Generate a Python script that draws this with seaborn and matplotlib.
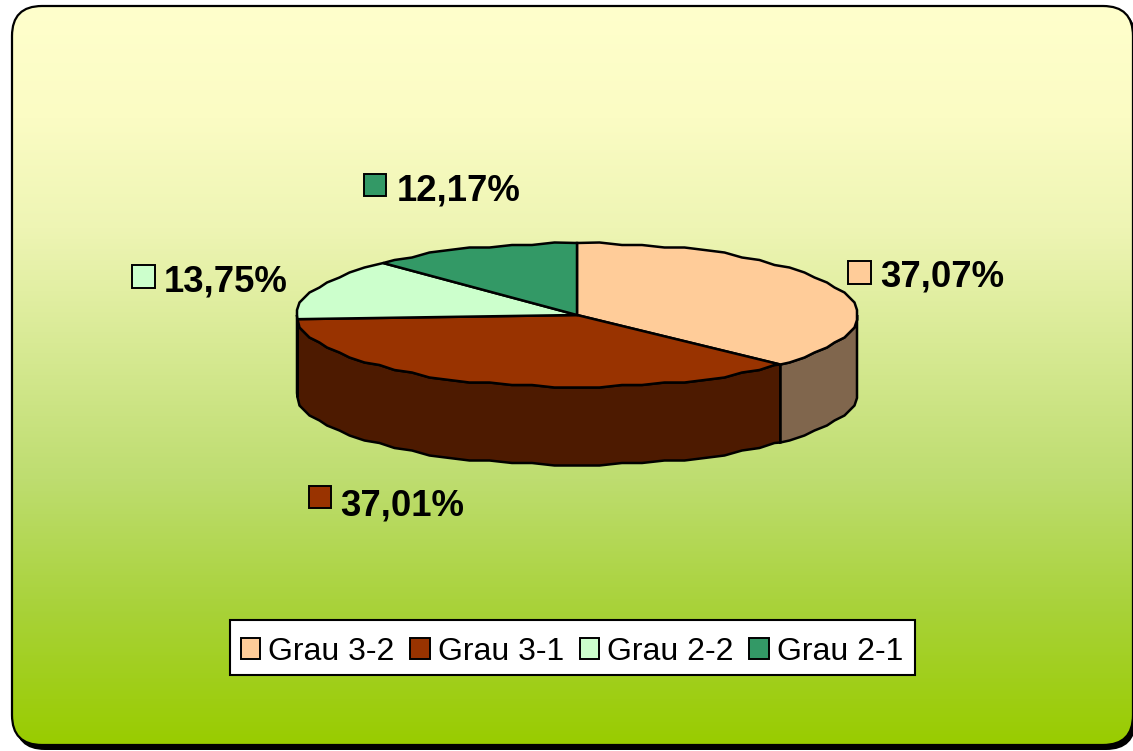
import numpy as np
import seaborn as sns
import matplotlib.pyplot as plt
from matplotlib.colors import LinearSegmentedColormap, to_rgb
from matplotlib.patches import FancyBboxPatch, Patch, Rectangle

categories = ["Grau 3-2", "Grau 3-1", "Grau 2-2", "Grau 2-1"]
values = [37.07, 37.01, 13.75, 12.17]
colors = ["#FFCC99", "#993300", "#CCFFCC", "#339966"]

W, H = 1133, 751
CX, CY, RX, RY, DEPTH = 577, 315, 280, 72, 78
# square x, square y, square size, text x, text y
label_pos = [
    (848, 261, 23, 880, 277),
    (309, 486, 22, 340, 506),
    (132, 265, 23, 164, 282),
    (364, 174, 22, 397, 191),
]

sns.set_theme(style="white")
plt.rcParams["font.family"] = ["Liberation Sans", "DejaVu Sans"]
plt.rcParams["path.simplify"] = False
palette = sns.color_palette(colors)

fig = plt.figure(figsize=(W / 100, H / 100), dpi=100, facecolor="white")

# background in pixel coordinates
bg = fig.add_axes([0, 0, 1, 1])
bg.set_xlim(0, W)
bg.set_ylim(H, 0)
bg.axis("off")

box = dict(boxstyle="round,pad=0,rounding_size=30")
shadow = FancyBboxPatch((15, 9), 1121, 741, fc="black", ec="none", **box)
bg.add_patch(shadow)
panel = FancyBboxPatch((12, 6), 1121, 739, fc="none", ec="black", lw=1.6, zorder=3, **box)
bg.add_patch(panel)
cmap = LinearSegmentedColormap.from_list(
    "panel",
    [
        (0.0, "#FFFFCC"),
        (0.15, "#FBFCC4"),
        (0.30, "#EEF5B4"),
        (0.64, "#BEDD70"),
        (0.82, "#A8D238"),
        (1.0, "#99CC00"),
    ],
)
img = bg.imshow(
    np.linspace(0, 1, 256).reshape(-1, 1),
    cmap=cmap,
    extent=(12, 1133, 745, 6),
    aspect="auto",
    zorder=2,
)
img.set_clip_path(panel)
bg.set_xlim(0, W)
bg.set_ylim(H, 0)

# pie axes, unit circle squashed to the ellipse
ax = fig.add_axes([0, 0, 1, 1])
ax.patch.set_alpha(0)
ax.axis("off")


def rim(start, stop):
    # the rim is a coarse polygon in the original, so snap it to a rough grid
    inner = np.arange(np.ceil(start / 4.5) * 4.5, stop, 4.5)
    inner = inner[(inner > start + 1.5) & (inner < stop - 1.5)]
    x = np.sin(np.radians(inner))
    y = np.cos(np.radians(inner))
    x = np.round(x * RX / 2.5) * 2.5 / RX
    y = np.round(y * RY / 2.5) * 2.5 / RY
    t0, t1 = np.radians([start, stop])
    xs = np.concatenate([[np.sin(t0)], x, [np.sin(t1)]])
    ys = np.concatenate([[np.cos(t0)], y, [np.cos(t1)]])
    return xs, ys


edges = np.concatenate([[0], np.cumsum(values)]) / sum(values) * 360
drop = DEPTH / RY

# side wall, only the part of the rim facing the viewer
for i, color in enumerate(palette):
    start, stop = max(edges[i], 90), min(edges[i + 1], 270)
    if start >= stop:
        continue
    xs, ys = rim(start, stop)
    ax.fill(
        np.concatenate([xs, xs[::-1]]),
        np.concatenate([ys, ys[::-1] - drop]),
        color=tuple(c * 0.5 for c in to_rgb(color)),
        ec="black",
        lw=1.8,
        zorder=1,
    )

# top face
for i, color in enumerate(palette):
    xs, ys = rim(edges[i], edges[i + 1])
    ax.fill(
        np.concatenate([[0], xs]),
        np.concatenate([[0], ys]),
        color=color,
        ec="black",
        lw=1.8,
        zorder=2,
    )
ax.set_xlim(-CX / RX, (W - CX) / RX)
ax.set_ylim((CY - H) / RY, CY / RY)

# value labels with their little colour squares
for value, color, (sx, sy, size, tx, ty) in zip(values, palette, label_pos):
    bg.add_patch(Rectangle((sx, sy), size, size, fc=color, ec="black", lw=1.4, zorder=4))
    bg.text(
        tx,
        ty,
        f"{value:.2f}%".replace(".", ","),
        fontsize=26.3,
        fontweight="bold",
        color="black",
        va="center",
        ha="left",
        zorder=4,
    )

# legend box is drawn apart so its height can match
bg.add_patch(Rectangle((230, 620), 685, 55, fc="white", ec="black", lw=1.5, zorder=4))
handles = [Patch(fc=c, ec="black", lw=1.4) for c in palette]
leg = ax.legend(
    handles,
    categories,
    ncol=4,
    loc="center",
    bbox_to_anchor=(572, 652),
    bbox_transform=bg.transData,
    fontsize=23,
    frameon=False,
    handlelength=0.62,
    handleheight=0.62,
    handletextpad=0.25,
    columnspacing=0.48,
    borderpad=0,
    borderaxespad=0,
    labelcolor="black",
)

fig.savefig("out.png", dpi=100)
